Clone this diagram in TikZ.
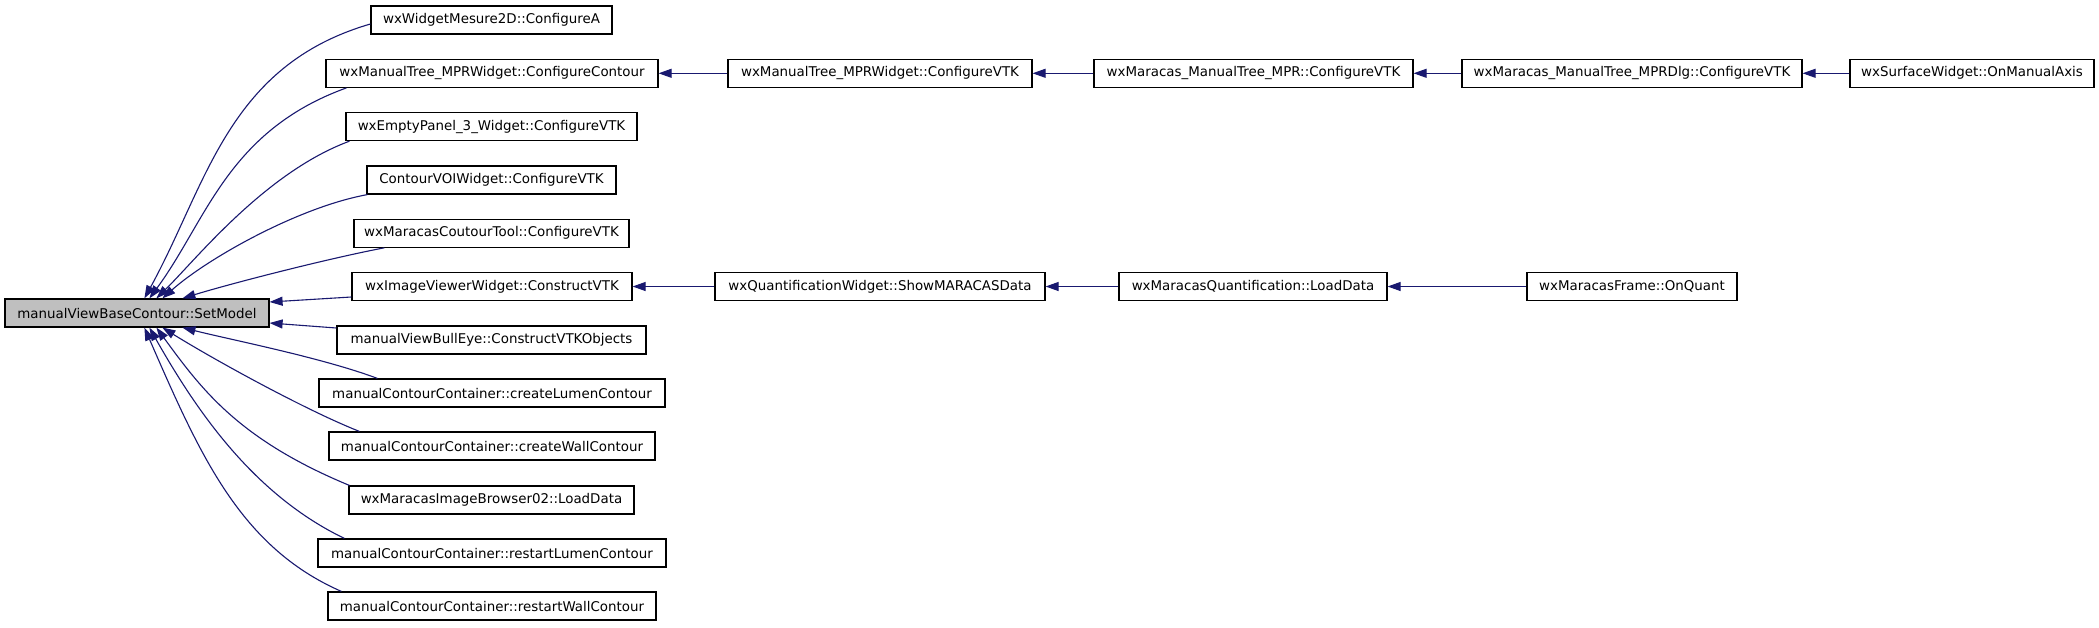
\documentclass[tikz,border=0pt]{standalone}
\usepackage{fontspec}
\setmainfont{DejaVu Sans}
\usetikzlibrary{arrows.meta}
\definecolor{edgeblue}{HTML}{191970}
\definecolor{boxgray}{HTML}{BFBFBF}
\begin{document}
\begin{tikzpicture}[x=1pt,y=-1pt,
  box/.style={draw=black, line width=1.2pt, fill=white, minimum height=28pt,
    inner xsep=2pt, inner ysep=0pt, font=\fontsize{13.4}{16}\selectfont, text=black},
  focus/.style={box, fill=boxgray},
  edge/.style={draw=edgeblue, line width=1.1pt, -{Triangle[length=13pt,width=9pt]}}]
\fill[white] (0,0) rectangle (2099,627);
\useasboundingbox (0,0) rectangle (2099,627);

% focus node
\node[focus, minimum width=264pt] (sm) at (137,313) {manualViewBaseContour::SetModel};

% column 1
\node[box, minimum width=241pt] (a0) at (491.5,20) {wxWidgetMesure2D::ConfigureA};
\node[box, minimum width=332pt] (a1) at (492,73.3) {wxManualTree\_MPRWidget::ConfigureContour};
\node[box, minimum width=291pt] (a2) at (491.5,126.6) {wxEmptyPanel\_3\_Widget::ConfigureVTK};
\node[box, minimum width=249pt] (a3) at (491.5,180) {ContourVOIWidget::ConfigureVTK};
\node[box, minimum width=275pt] (a4) at (491.5,233.2) {wxMaracasCoutourTool::ConfigureVTK};
\node[box, minimum width=280pt] (a5) at (492,286.5) {wxImageViewerWidget::ConstructVTK};
\node[box, minimum width=309pt] (a6) at (491.5,340) {manualViewBullEye::ConstructVTKObjects};
\node[box, minimum width=346pt] (a7) at (492,393) {manualContourContainer::createLumenContour};
\node[box, minimum width=326pt] (a8) at (492,446) {manualContourContainer::createWallContour};
\node[box, minimum width=285pt] (a9) at (491.5,500) {wxMaracasImageBrowser02::LoadData};
\node[box, minimum width=348pt] (a10) at (492,553) {manualContourContainer::restartLumenContour};
\node[box, minimum width=328pt] (a11) at (492,606) {manualContourContainer::restartWallContour};

% further columns
\node[box, minimum width=304pt] (b1) at (880,73.3) {wxManualTree\_MPRWidget::ConfigureVTK};
\node[box, minimum width=319pt] (c1) at (1253.5,73.3) {wxMaracas\_ManualTree\_MPR::ConfigureVTK};
\node[box, minimum width=340pt] (d1) at (1632,73.3) {wxMaracas\_ManualTree\_MPRDlg::ConfigureVTK};
\node[box, minimum width=244pt] (e1) at (1972,73.3) {wxSurfaceWidget::OnManualAxis};
\node[box, minimum width=330pt] (b5) at (880,286.5) {wxQuantificationWidget::ShowMARACASData};
\node[box, minimum width=268pt] (c5) at (1253,286.5) {wxMaracasQuantification::LoadData};
\node[box, minimum width=210pt] (d5) at (1632,286.5) {wxMaracasFrame::OnQuant};

% fan edges (upper)
\draw[edge] ([yshift=-4pt]a0.west) .. controls (227.7,65.5) and (207.4,183.6) .. ([xshift=140pt]sm.north west);
\draw[edge] ([xshift=21pt]a1.south west) .. controls (227.5,131) and (207,220) .. ([xshift=145pt]sm.north west);
\draw[edge] ([xshift=4pt]a2.south west) .. controls (265,172.5) and (196,259.5) .. ([xshift=152pt]sm.north west);
\draw[edge] ([xshift=1pt]a3.south west) .. controls (299,207) and (208,258) .. ([xshift=158pt]sm.north west);
\draw[edge] ([xshift=31pt]a4.south west) .. controls (326,259) and (231,283.5) .. ([xshift=178pt]sm.north west);
\draw[edge] ([yshift=-10.5pt]a5.west) -- ([yshift=11pt]sm.east);
% fan edges (lower)
\draw[edge] ([yshift=12pt]a6.west) -- ([yshift=-10pt]sm.east);
\draw[edge] ([xshift=59pt]a7.north west) .. controls (322.5,357.8) and (232,340) .. ([xshift=178pt]sm.south west);
\draw[edge] ([xshift=31pt]a8.north west) .. controls (304.2,409.5) and (212.7,358.8) .. ([xshift=158pt]sm.south west);
\draw[edge] ([xshift=1pt]a9.north west) .. controls (238.4,439.4) and (201.6,389.4) .. ([xshift=152pt]sm.south west);
\draw[edge] ([xshift=27pt]a10.north west) .. controls (255,495.3) and (198,413.6) .. ([xshift=145pt]sm.south west);
\draw[edge] ([xshift=14pt]a11.north west) .. controls (240,547) and (200,455) .. ([xshift=140pt]sm.south west);

% chains
\draw[edge] (b1.west) -- (a1.east);
\draw[edge] (c1.west) -- (b1.east);
\draw[edge] (d1.west) -- (c1.east);
\draw[edge] (e1.west) -- (d1.east);
\draw[edge] (b5.west) -- (a5.east);
\draw[edge] (c5.west) -- (b5.east);
\draw[edge] (d5.west) -- (c5.east);
\end{tikzpicture}
\end{document}
